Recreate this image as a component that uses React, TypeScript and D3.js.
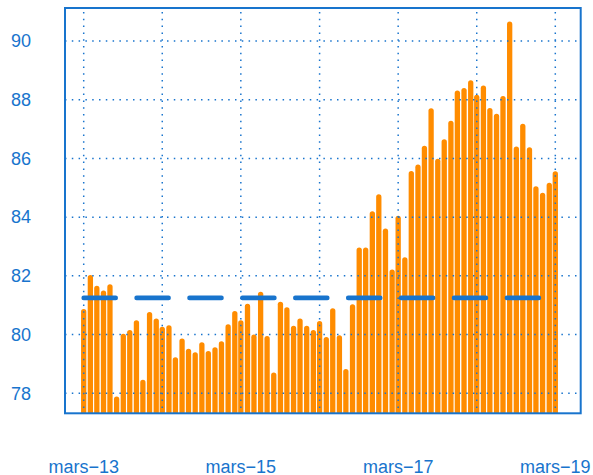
import React, { useEffect, useRef } from 'react';
import * as d3 from 'd3';

// monthly values, mars 2013 -> mars 2019
const startMonth = new Date(2013, 2, 1);
const endMonth = new Date(2019, 2, 1);
const months = d3.timeMonth.range(startMonth, d3.timeMonth.offset(endMonth, 1));

const values = [
  80.78, 81.94, 81.57, 81.41, 81.62, 77.8, 79.94, 80.07, 80.4, 78.37, 80.68, 80.46,
  80.18, 80.23, 79.14, 79.78, 79.43, 79.31, 79.65, 79.35, 79.48, 79.68, 80.26, 80.71,
  80.4, 80.96, 79.91, 81.37, 79.86, 78.62, 81.03, 80.84, 80.21, 80.46, 80.21, 80.07,
  80.37, 79.83, 80.81, 79.89, 78.74, 80.94, 82.88, 82.88, 84.11, 84.69, 83.52, 82.13,
  83.96, 82.54, 85.48, 85.7, 86.34, 87.62, 85.9, 86.56, 87.19, 88.22, 88.31, 88.57,
  88.08, 88.39, 87.63, 87.43, 88.04, 90.57, 86.32, 87.09, 86.29, 84.96, 84.74, 85.08,
  85.47,
];

const refValue = 81.25;

const yTicks = [78, 80, 82, 84, 86, 88, 90];
const gridYears = [2013, 2014, 2015, 2016, 2017, 2018, 2019];
const labelYears = [2013, 2015, 2017, 2019];

const frenchMonth = d3.timeFormatLocale({
  dateTime: '%A %e %B %Y à %X',
  date: '%d/%m/%Y',
  time: '%H:%M:%S',
  periods: ['AM', 'PM'],
  days: ['dimanche', 'lundi', 'mardi', 'mercredi', 'jeudi', 'vendredi', 'samedi'],
  shortDays: ['dim.', 'lun.', 'mar.', 'mer.', 'jeu.', 'ven.', 'sam.'],
  months: ['janvier', 'février', 'mars', 'avril', 'mai', 'juin', 'juillet', 'août', 'septembre', 'octobre', 'novembre', 'décembre'],
  shortMonths: ['janv.', 'févr.', 'mars', 'avr.', 'mai', 'juin', 'juil.', 'août', 'sept.', 'oct.', 'nov.', 'déc.'],
}).format('%B');

const blue = '#1874CD';
const orange = '#FF8C00';

function BarChart({ width = 593, height = 475 }) {
  const svgRef = useRef<SVGSVGElement>(null);

  useEffect(() => {
    if (!svgRef.current) return;
    d3.select(svgRef.current).selectAll('*').remove();

    const plot = { left: 65, right: 580.7, top: 8, bottom: 413.3 };

    const svg = d3.select(svgRef.current)
      .attr('width', width)
      .attr('height', height);

    const x = d3.scaleTime()
      .domain([startMonth, endMonth])
      .range([83.7, 555.3]);

    const y = d3.scaleLinear()
      .domain([78, 90])
      .range([393.3, 41]);

    svg.append('clipPath')
      .attr('id', 'plot-clip')
      .append('rect')
      .attr('x', plot.left)
      .attr('y', plot.top)
      .attr('width', plot.right - plot.left)
      .attr('height', plot.bottom - plot.top);

    const inner = svg.append('g').attr('clip-path', 'url(#plot-clip)');

    // bars (type = "h")
    inner.selectAll('line.bar')
      .data(values)
      .enter()
      .append('line')
      .attr('class', 'bar')
      .attr('x1', (d, i) => x(months[i]))
      .attr('x2', (d, i) => x(months[i]))
      .attr('y1', plot.bottom + 5)
      .attr('y2', d => y(d))
      .attr('stroke', orange)
      .attr('stroke-width', 5.3)
      .attr('stroke-linecap', 'round');

    // dotted grid
    inner.selectAll('line.hgrid')
      .data(yTicks)
      .enter()
      .append('line')
      .attr('x1', plot.left)
      .attr('x2', plot.right)
      .attr('y1', d => y(d))
      .attr('y2', d => y(d))
      .attr('stroke', blue)
      .attr('stroke-width', 1.5)
      .attr('stroke-dasharray', '1.5 5.3');

    inner.selectAll('line.vgrid')
      .data(gridYears)
      .enter()
      .append('line')
      .attr('x1', d => x(new Date(d, 2, 1)))
      .attr('x2', d => x(new Date(d, 2, 1)))
      .attr('y1', plot.top + 4)
      .attr('y2', plot.bottom)
      .attr('stroke', blue)
      .attr('stroke-width', 1.5)
      .attr('stroke-dasharray', '1.5 5.3');

    // reference line
    inner.append('line')
      .attr('x1', x(startMonth))
      .attr('x2', x(endMonth))
      .attr('y1', y(refValue))
      .attr('y2', y(refValue))
      .attr('stroke', blue)
      .attr('stroke-width', 4.6)
      .attr('stroke-linecap', 'round')
      .attr('stroke-dasharray', '32 20.9');

    // box
    svg.append('rect')
      .attr('x', plot.left)
      .attr('y', plot.top)
      .attr('width', plot.right - plot.left)
      .attr('height', plot.bottom - plot.top)
      .attr('fill', 'none')
      .attr('stroke', blue)
      .attr('stroke-width', 2);

    // y labels
    svg.selectAll('text.ylab')
      .data(yTicks)
      .enter()
      .append('text')
      .attr('x', 31)
      .attr('y', d => y(d))
      .attr('dy', '0.35em')
      .attr('text-anchor', 'end')
      .attr('font-family', '"Liberation Sans", Arial, sans-serif')
      .attr('font-size', 18)
      .attr('fill', blue)
      .text(d => d);

    // x labels
    svg.selectAll('text.xlab')
      .data(labelYears)
      .enter()
      .append('text')
      .attr('x', d => x(new Date(d, 2, 1)))
      .attr('y', 472.5)
      .attr('text-anchor', 'middle')
      .attr('font-family', '"Liberation Sans", Arial, sans-serif')
      .attr('font-size', 18)
      .attr('fill', blue)
      .text(d => `${frenchMonth(new Date(d, 2, 1))}\u2212${String(d).slice(2)}`);
  }, [width, height]);

  return <svg ref={svgRef} style={{ position: 'absolute', left: 0, top: 0, display: 'block' }} />;
}

export default function App() {
  return <BarChart />;
}
